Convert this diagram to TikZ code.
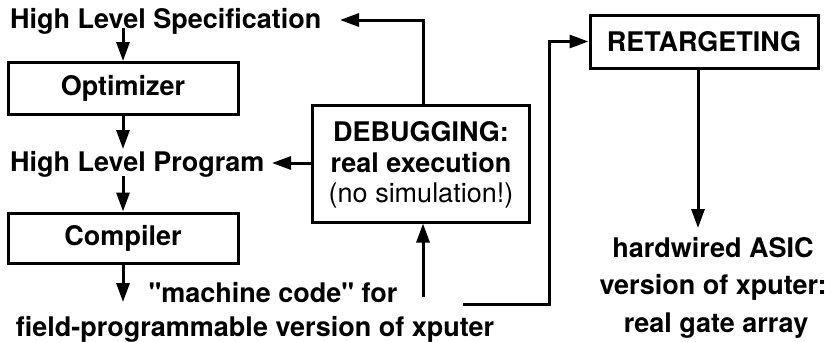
\documentclass[tikz,border=0pt]{standalone}
\usepackage{fontspec}
\setmainfont{TeX Gyre Heros}[Ligatures=TeXOff]
\usetikzlibrary{arrows.meta,calc}
\begin{document}
\begin{tikzpicture}[x=1pt,y=-1pt,
  every node/.style={font=\fontsize{27}{32}\selectfont\bfseries, inner sep=0pt},
  stage/.style={draw, line width=3pt, minimum width=230pt, minimum height=52pt},
  label/.style={anchor=base west},
  flow/.style={line width=3pt, -{Triangle[length=19pt,width=13pt]}},
  wire/.style={line width=3pt}]
  \useasboundingbox (0,0) rectangle (832,341);

  % left column: specification -> optimizer -> program -> compiler -> code
  \node[label] (spec) at (10,28) {High Level Specification};
  \node[stage] (opt) at (123,88.5) {Optimizer};
  \node[label] (hlp) at (10,171) {High Level Program};
  \node[stage, minimum height=50pt] (comp) at (123,238) {Compiler};
  \node[anchor=base] (mc) at (273,302) {"machine code" for};
  \node[anchor=base] (fp) at (255,336) {field-programmable version of xputer};

  % debugging box
  \node[draw, line width=3pt, minimum width=217pt, minimum height=117pt,
        align=center] (dbg) at (421,163.5) {};
  \node[anchor=base] (dbg1) at (421,141) {DEBUGGING:};
  \node[anchor=base] (dbg2) at (421,172) {real execution};
  \node[anchor=base, font=\fontsize{27}{32}\selectfont\mdseries] (dbg3) at (421,202) {(no simulation!)};

  % retargeting branch
  \node[draw, line width=3pt, minimum width=228pt, minimum height=53pt] (ret) at (704,41.5) {RETARGETING};
  \node[anchor=base] (asic1) at (713,257) {hardwired ASIC};
  \node[anchor=base] (asic2) at (713,294) {version of xputer:};
  \node[anchor=base] (asic3) at (716,332) {real gate array};

  % connector end points
  \coordinate (specIn) at (340,20);
  \coordinate (hlpIn) at (272,163);
  \coordinate (optOut) at (123,149);
  \coordinate (compIn) at (123,176);
  \coordinate (specOut) at (123,28);
  \coordinate (codeOut) at (123,302);
  \coordinate (dbgIn) at (423,297);
  \coordinate (retStart) at (463,304);
  \coordinate (retBend) at (549,304);
  \coordinate (asicIn) at (698,228);

  \draw[flow] (specOut) -- (opt.north);
  \draw[flow] (opt.south) -- (optOut);
  \draw[flow] (compIn) -- (comp.north);
  \draw[flow] (comp.south) -- (codeOut);

  \draw[flow] (dbg.west |- hlpIn) -- (hlpIn);
  \draw[flow] (dbg.north -| dbgIn) -- (dbgIn |- specIn) -- (specIn);
  \draw[flow] (dbgIn) -- (dbg.south -| dbgIn);

  \draw[flow] (retStart) -- (retBend) -- (retBend |- ret.west) -- (ret.west);
  \draw[flow] (ret.south -| asicIn) -- (asicIn);
\end{tikzpicture}
\end{document}
